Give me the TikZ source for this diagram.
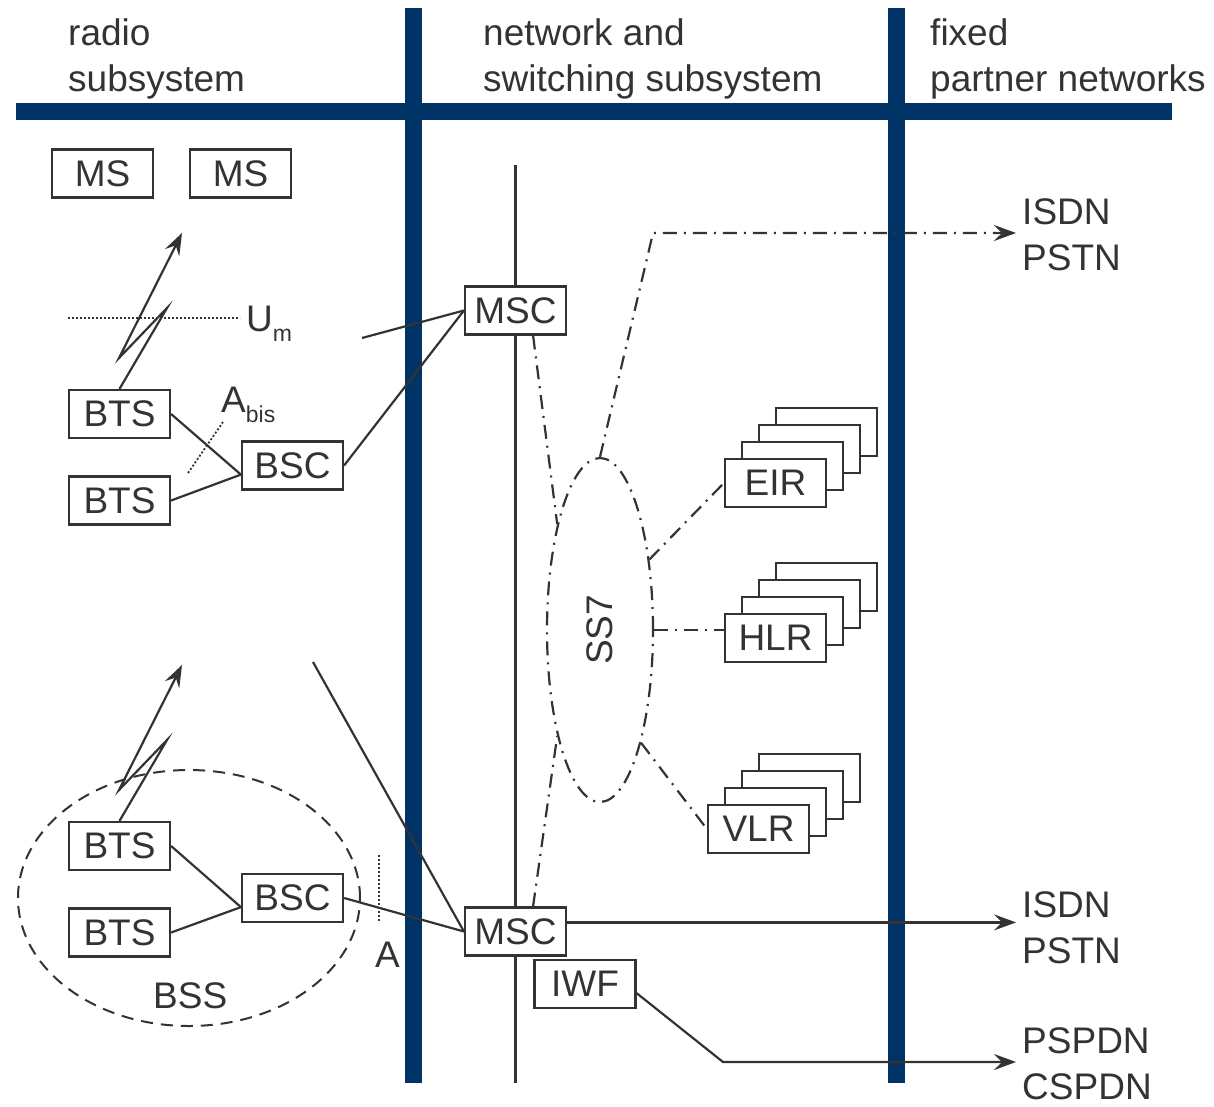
\documentclass[tikz,border=0pt]{standalone}
\usepackage{fontspec}
\setmainfont{Liberation Sans}
\usepackage{xcolor}
\usepackage{tikz}
\usetikzlibrary{shapes,positioning,calc,arrows.meta}

\definecolor{gsmblue}{RGB}{0,51,102}
\definecolor{ink}{RGB}{51,51,51}

\newcommand{\bigtxt}{\fontsize{37}{46}\selectfont}
\newcommand{\lowidx}[1]{\raisebox{-10pt}{\fontsize{23}{23}\selectfont #1}}

\begin{document}
\begin{tikzpicture}[x=1pt,y=-1pt,
    every node/.style={text=ink,font=\bigtxt},
    unit/.style={draw=ink,line width=2.2pt,rectangle,fill=white,
        minimum width=101pt,minimum height=48pt,inner sep=0pt},
    bar/.style={draw=gsmblue,line width=17pt},
    link/.style={draw=ink,line width=2.2pt},
    sig/.style={draw=ink,line width=2.2pt,dash pattern=on 14pt off 7pt on 2pt off 7pt},
    ifc/.style={draw=ink,line width=1.8pt,dash pattern=on 2pt off 2pt},
    net/.style={align=left,anchor=west,inner xsep=6pt,inner ysep=0pt},
    tip/.style={-{Stealth[length=22pt,width=16pt,inset=8pt]}}]
    \useasboundingbox (0,0) rectangle (1214,1106);

    % subsystem borders
    \draw[bar] (16,111.5) -- (1172,111.5);
    \draw[bar] (413.5,8) -- (413.5,1083);
    \draw[bar] (896,8) -- (896,1083);
    \draw[link] (515.5,165) -- (515.5,1083);

    \node[align=left,anchor=north west,inner sep=0pt] (hd_radio) at (68,18) {radio\\subsystem};
    \node[align=left,anchor=north west,inner sep=0pt] (hd_nss) at (483,18) {network and\\switching subsystem};
    \node[align=left,anchor=north west,inner sep=0pt] (hd_fixed) at (930,18) {fixed\\partner networks};

    % radio part
    \node[unit] (ms_a) at (102.5,173.5) {MS};
    \node[unit] (ms_b) at (240.5,173.5) {MS};

    \node[unit] (bts_a) at (119.5,414) {BTS};
    \node[unit] (bts_b) at (119.5,500.5) {BTS};
    \node[unit] (bsc_a) at (292.5,465.5) {BSC};

    \draw[ifc] (68,318) -- (240,318);
    \node[anchor=base west,inner sep=0pt] (um) at (246,331) {U\lowidx{m}};
    \draw[ifc] (188,473) -- (223,422);
    \node[anchor=base west,inner sep=0pt] (abis) at (221,412) {A\lowidx{bis}};

    \coordinate (zz_a1) at (167,308);
    \coordinate (zz_a2) at (119,358);
    \coordinate (air_a) at (182,233);
    \draw[link,tip] (bts_a.north) -- (zz_a1) -- (zz_a2) -- (air_a);

    \draw[link] (bts_a.east) -- (bsc_a.-170);
    \draw[link] (bts_b.east) -- (bsc_a.-170);

    % lower BSS
    \draw[draw=ink,line width=2pt,dash pattern=on 12pt off 8pt] (189,898) ellipse (171pt and 128pt);
    \node[anchor=base west,inner sep=0pt] (bss) at (153,1008) {BSS};

    \node[unit] (bts_c) at (119.5,846) {BTS};
    \node[unit] (bts_d) at (119.5,932.5) {BTS};
    \node[unit] (bsc_b) at (292.5,898) {BSC};

    \coordinate (zz_b1) at (167,740);
    \coordinate (zz_b2) at (119,790);
    \coordinate (air_b) at (182,665);
    \draw[link,tip] (bts_c.north) -- (zz_b1) -- (zz_b2) -- (air_b);

    \draw[link] (bts_c.east) -- (bsc_b.-170);
    \draw[link] (bts_d.east) -- (bsc_b.-170);

    \draw[ifc] (379,855) -- (379,923);
    \node[anchor=base west,inner sep=0pt] (a_ifc) at (375,967) {A};

    % switching part
    \node[unit] (msc_a) at (515.5,310.5) {MSC};
    \node[unit] (msc_b) at (515.5,931.5) {MSC};
    \node[unit] (iwf) at (585,984) {IWF};

    \coordinate (ms_in_a) at (362,338);
    \coordinate (ms_in_b) at (313,662);
    \draw[link] (ms_in_a) -- (msc_a.west);
    \draw[link] (bsc_a.east) -- (msc_a.west);
    \draw[link] (ms_in_b) -- (msc_b.west);
    \draw[link] (bsc_b.east) -- (msc_b.west);

    \node[ellipse,sig,minimum width=106pt,minimum height=344pt,inner sep=0pt,
        label={[rotate=90]center:SS7}] (ss7) at (600,630) {};

    % databases
    \foreach \k in {3,2,1}
        \node[unit] at (775.5+17*\k,483-17*\k) {};
    \node[unit] (eir) at (775.5,483) {EIR};
    \foreach \k in {3,2,1}
        \node[unit] at (775.5+17*\k,638-17*\k) {};
    \node[unit] (hlr) at (775.5,638) {HLR};
    \foreach \k in {3,2,1}
        \node[unit] at (758.5+17*\k,829-17*\k) {};
    \node[unit] (vlr) at (758.5,829) {VLR};

    % partner networks
    \node[net] (isdn_a) at (1016,235) {ISDN\\PSTN};
    \node[net] (isdn_b) at (1016,928) {ISDN\\PSTN};
    \node[net] (pspdn) at (1016,1064) {PSPDN\\CSPDN};

    \draw[sig] (msc_a.-55) -- (ss7.112);
    \draw[sig] (msc_b.55) -- (ss7.-112);
    \draw[sig] (ss7.55) -- (eir.west);
    \draw[sig] (ss7.east) -- (ss7.east -| hlr.west);
    \draw[sig] (ss7.-70) -- (vlr.west);

    \coordinate (sig_bend) at (653,233);
    \draw[sig,tip] (ss7.north) -- (sig_bend) -- (sig_bend -| isdn_a.west);

    \draw[link,tip] (msc_b.10) -- (msc_b.10 -| isdn_b.west);
    \coordinate (iwf_bend) at (723,1062);
    \draw[link,tip] (iwf.-10) -- (iwf_bend) -- (iwf_bend -| pspdn.west);
\end{tikzpicture}
\end{document}
